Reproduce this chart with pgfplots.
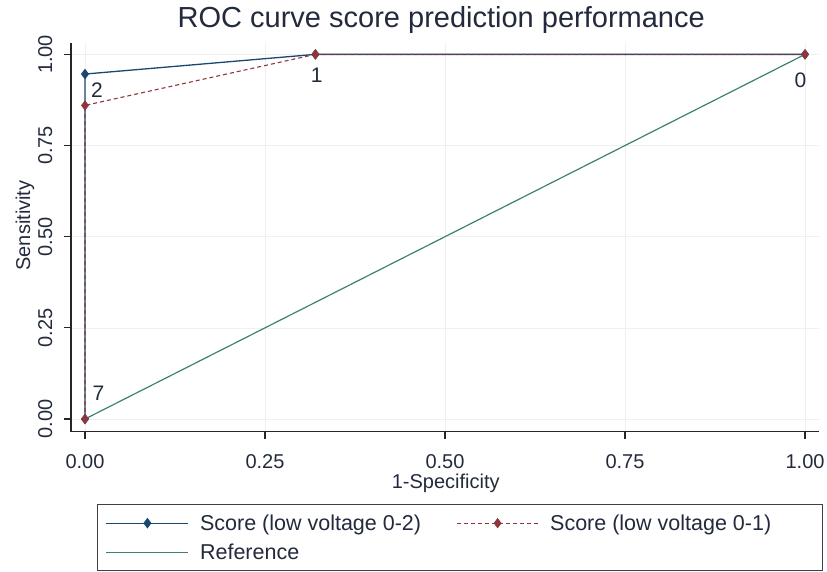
\documentclass[border=0pt]{standalone}
\usepackage{fontspec}
\setmainfont{Liberation Sans}
\usepackage{pgfplots}
\pgfplotsset{compat=1.18}
\definecolor{navyS}{RGB}{26,71,111}
\definecolor{maroonS}{RGB}{144,53,59}
\definecolor{refc}{RGB}{60,130,110}
\definecolor{txt}{RGB}{34,42,60}
\newcommand{\lstrut}{\rule[-7pt]{0pt}{29pt}}
\begin{document}
\begin{tikzpicture}[x=1pt,y=1pt]
\useasboundingbox (-71,-140.3) rectangle (756,431.7);
\begin{axis}[
  at={(0,0)}, anchor=south west,
  scale only axis, width=748pt, height=389pt,
  xmin=-0.01944, xmax=1.0194, ymin=-0.0348, ymax=1.032,
  axis lines*=left,
  axis line style={line width=1.1pt, color=black!85},
  tick style={line width=1.1pt, color=black!85},
  major tick length=7pt, tick align=outside,
  xtick={0,0.25,0.5,0.75,1}, ytick={0,0.25,0.5,0.75,1},
  grid=major, major grid style={color=gray!12, line width=0.6pt},
  /pgf/number format/assume math mode=true,
  /pgf/number format/fixed, /pgf/number format/fixed zerofill, /pgf/number format/precision=2,
  tick label style={font=\fontsize{20}{24}\selectfont, text=txt},
  xticklabel style={anchor=base, yshift=-30pt},
  yticklabel style={rotate=90, anchor=base},
  yticklabel shift=12pt,
  title={ROC curve score prediction performance},
  title style={at={(axis description cs:0.495,1)}, anchor=base, yshift=8.7pt, font=\fontsize{29}{34}\selectfont, text=txt},
  xlabel={1-Specificity},
  xlabel style={at={(axis description cs:0.501,-0.145)}, anchor=base, font=\fontsize{20}{24}\selectfont, text=txt},
  ylabel={Sensitivity},
  ylabel style={at={(axis description cs:-0.0548,0.530)}, anchor=base, font=\fontsize{20}{24}\selectfont, text=txt},
  legend columns=2, legend cell align=left,
  legend style={at={(axis description cs:0.0352,-0.1859)}, anchor=north west,
    draw=black!75, line width=0.9pt, fill=white,
    inner xsep=8pt, inner ysep=4.2pt,
    font=\fontsize{21.5}{24}\selectfont, text=txt,
    nodes={inner xsep=0pt, inner ysep=0pt, text depth=},
    /tikz/every odd column/.append style={column sep=11pt}},
  legend image code/.code={\draw[mark repeat=2,mark phase=2,#1] plot coordinates {(0pt,0pt) (41pt,0pt) (82pt,0pt)};},
]
\addplot[refc, line width=1.2pt, forget plot] coordinates {(0,0) (1,1)};
\addplot[navyS, line width=1.3pt, mark=diamond*, mark size=4.3pt, mark options={solid, fill=navyS}]
  coordinates {(0,0) (0,0.946) (0.32,1) (1,1)};
\addlegendentry{\makebox[256pt][l]{\lstrut Score (low voltage 0-2)}}
\addplot[maroonS, line width=1.1pt, dash pattern=on 4pt off 3pt, mark=diamond*, mark size=4.3pt, mark options={solid, fill=maroonS}]
  coordinates {(0,0) (0,0.860) (0.32,1) (1,1)};
\addlegendentry{\makebox[264pt][l]{\lstrut Score (low voltage 0-1)}}
\addlegendimage{refc, line width=1.2pt, mark=none}
\addlegendentry{\makebox[256pt][l]{\lstrut Reference}}
\node[font=\fontsize{21}{24}\selectfont, text=txt, inner sep=0pt] at (axis cs:0.0167,0.9007) {2};
\node[font=\fontsize{21}{24}\selectfont, text=txt, inner sep=0pt] at (axis cs:0.3218,0.9419) {1};
\node[font=\fontsize{21}{24}\selectfont, text=txt, inner sep=0pt] at (axis cs:0.9937,0.9295) {0};
\node[font=\fontsize{21}{24}\selectfont, text=txt, inner sep=0pt] at (axis cs:0.01875,0.0713) {7};
\end{axis}
\end{tikzpicture}
\end{document}
